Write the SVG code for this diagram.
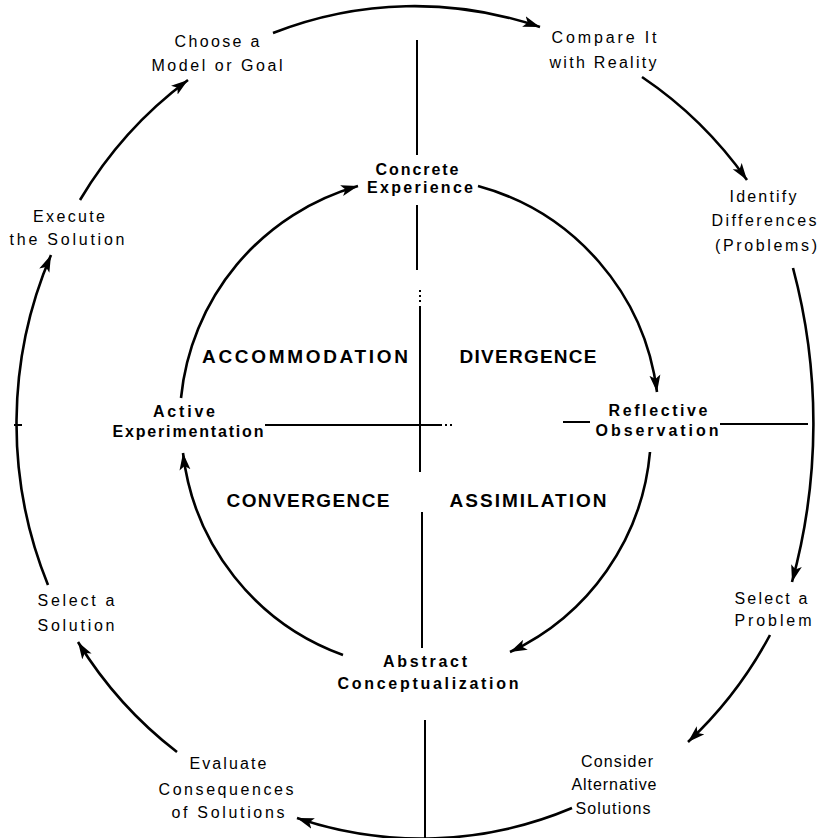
<svg xmlns="http://www.w3.org/2000/svg" width="817" height="838" viewBox="0 0 817 838">
<style>
.ring{fill:none;stroke:#000;stroke-width:2.6}
.ln{fill:none;stroke:#000;stroke-width:2}
.o{font-family:"Liberation Sans",Arial,sans-serif;font-size:16px;fill:#000;text-anchor:middle}
.i{font-family:"Liberation Sans",Arial,sans-serif;font-size:16px;font-weight:bold;fill:#000;text-anchor:middle}
.q{font-family:"Liberation Sans",Arial,sans-serif;font-size:19px;font-weight:bold;fill:#000;text-anchor:middle}
</style>
<defs>
<marker id="ah" markerUnits="userSpaceOnUse" markerWidth="18" markerHeight="12" refX="17" refY="6" orient="auto">
<path d="M0,0.5 L17,6 L0,11.5 L4,6 z" fill="#000"/>
</marker>
</defs>
<rect width="817" height="838" fill="#fff"/>
<g id="connectors">
<path class="ring" d="M273,33 A400,415 0 0 1 540,27" marker-end="url(#ah)"/>
<path class="ring" d="M642,77 A400,415 0 0 1 747,180" marker-end="url(#ah)"/>
<path class="ring" d="M793,268 A600,600 0 0 1 792,582" marker-end="url(#ah)"/>
<path class="ring" d="M770,635 A400,415 0 0 1 688,742" marker-end="url(#ah)"/>
<path class="ring" d="M572,808 A400,415 0 0 1 297,818" marker-end="url(#ah)"/>
<path class="ring" d="M177,752 A400,415 0 0 1 78,642" marker-end="url(#ah)"/>
<path class="ring" d="M48,585 A400,415 0 0 1 51,255" marker-end="url(#ah)"/>
<path class="ring" d="M80,200 A400,415 0 0 1 188,80" marker-end="url(#ah)"/>
<path class="ring" d="M478,186 A245,245 0 0 1 657,392" marker-end="url(#ah)"/>
<path class="ring" d="M650,452 A245,245 0 0 1 510,652" marker-end="url(#ah)"/>
<path class="ring" d="M343,655 A245,245 0 0 1 183,453" marker-end="url(#ah)"/>
<path class="ring" d="M181,398 A245,245 0 0 1 358,186" marker-end="url(#ah)"/>
<line class="ln" x1="417" y1="40" x2="417" y2="155"/>
<line class="ln" x1="417" y1="205" x2="417" y2="270"/>
<line class="ln" x1="420" y1="290" x2="420" y2="302" stroke-dasharray="2 3"/>
<line class="ln" x1="420" y1="306" x2="420" y2="472"/>
<line class="ln" x1="265" y1="425" x2="442" y2="425"/>
<line class="ln" x1="445" y1="425" x2="452" y2="425" stroke-dasharray="2 3"/>
<line class="ln" x1="422" y1="512" x2="422" y2="648"/>
<line class="ln" x1="425" y1="720" x2="425" y2="838"/>
<line class="ln" x1="563" y1="422" x2="590" y2="422"/>
<line class="ln" x1="720" y1="424" x2="808" y2="424"/>
<line class="ln" x1="14" y1="425" x2="22" y2="425"/>
</g>
<g id="choose"><text class="o" x="217" y="47" textLength="85" lengthAdjust="spacing">Choose a</text><text class="o" x="217" y="71" textLength="131" lengthAdjust="spacing">Model or Goal</text></g>
<g id="compare"><text class="o" x="604" y="43" textLength="105" lengthAdjust="spacing">Compare It</text><text class="o" x="603" y="68" textLength="107" lengthAdjust="spacing">with Reality</text></g>
<g id="identify"><text class="o" x="763" y="202" textLength="67" lengthAdjust="spacing">Identify</text><text class="o" x="764" y="226" textLength="105" lengthAdjust="spacing">Differences</text><text class="o" x="766" y="251" textLength="102" lengthAdjust="spacing">(Problems)</text></g>
<g id="selectproblem"><text class="o" x="771" y="604" textLength="73" lengthAdjust="spacing">Select a</text><text class="o" x="773" y="626" textLength="77" lengthAdjust="spacing">Problem</text></g>
<g id="consider"><text class="o" x="617" y="767" textLength="72" lengthAdjust="spacing">Consider</text><text class="o" x="614" y="790" textLength="85" lengthAdjust="spacing">Alternative</text><text class="o" x="613" y="814" textLength="75" lengthAdjust="spacing">Solutions</text></g>
<g id="evaluate"><text class="o" x="228" y="769" textLength="77" lengthAdjust="spacing">Evaluate</text><text class="o" x="226" y="795" textLength="135" lengthAdjust="spacing">Consequences</text><text class="o" x="228" y="818" textLength="113" lengthAdjust="spacing">of Solutions</text></g>
<g id="selectsolution"><text class="o" x="76" y="606" textLength="77" lengthAdjust="spacing">Select a</text><text class="o" x="76" y="631" textLength="77" lengthAdjust="spacing">Solution</text></g>
<g id="execute"><text class="o" x="69" y="222" textLength="72" lengthAdjust="spacing">Execute</text><text class="o" x="67" y="245" textLength="115" lengthAdjust="spacing">the Solution</text></g>
<g id="concrete"><text class="i" x="417" y="175" textLength="83" lengthAdjust="spacing">Concrete</text><text class="i" x="420" y="193" textLength="106" lengthAdjust="spacing">Experience</text></g>
<g id="reflective"><text class="i" x="658" y="416" textLength="99" lengthAdjust="spacing">Reflective</text><text class="i" x="657" y="436" textLength="123" lengthAdjust="spacing">Observation</text></g>
<g id="abstract"><text class="i" x="425" y="667" textLength="84" lengthAdjust="spacing">Abstract</text><text class="i" x="428" y="689" textLength="181" lengthAdjust="spacing">Conceptualization</text></g>
<g id="active"><text class="i" x="184" y="417" textLength="62" lengthAdjust="spacing">Active</text><text class="i" x="188" y="437" textLength="151" lengthAdjust="spacing">Experimentation</text></g>
<g id="accommodation"><text class="q" x="305" y="363" textLength="206" lengthAdjust="spacing">ACCOMMODATION</text></g>
<g id="divergence"><text class="q" x="528" y="363" textLength="137" lengthAdjust="spacing">DIVERGENCE</text></g>
<g id="convergence"><text class="q" x="308" y="507" textLength="163" lengthAdjust="spacing">CONVERGENCE</text></g>
<g id="assimilation"><text class="q" x="528" y="507" textLength="157" lengthAdjust="spacing">ASSIMILATION</text></g>
</svg>
